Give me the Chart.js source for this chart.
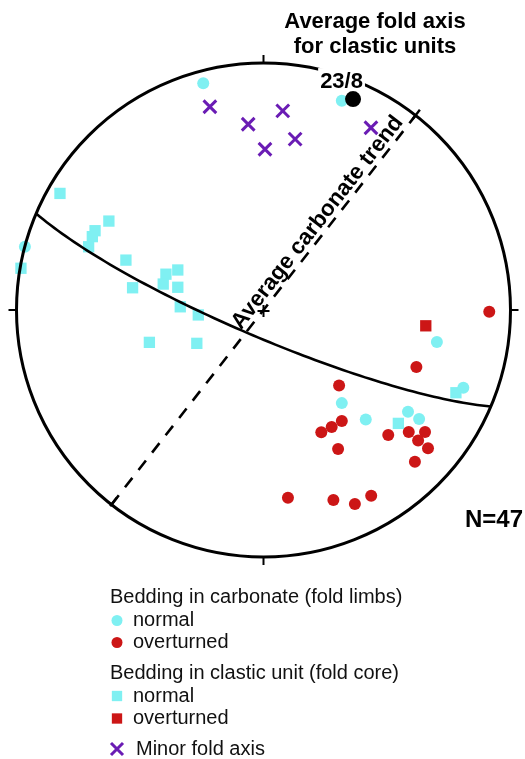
<!DOCTYPE html>
<html>
<head>
<meta charset="utf-8">
<script src="https://cdn.jsdelivr.net/npm/chart.js@4.4.1/dist/chart.umd.min.js"></script>
<style>
  html, body { margin: 0; padding: 0; background: #ffffff; }
  canvas { display: block; }
</style>
</head>
<body>
<canvas id="net" width="525" height="759"></canvas>
<script>
// ---- Data (lower-hemisphere equal-area net, x = east, y = north, unit radius) ----
const carbonateNormal = [
  [-0.244, 0.918], [0.317, 0.847], [-0.966, 0.256], [0.702, -0.130], [0.317, -0.377],
  [0.809, -0.315], [0.414, -0.443], [0.585, -0.412], [0.630, -0.441]
];
const carbonateOverturned = [
  [0.914, -0.007], [0.619, -0.231], [0.306, -0.306], [0.317, -0.449], [0.276, -0.474],
  [0.234, -0.495], [0.302, -0.563], [0.505, -0.506], [0.588, -0.494], [0.654, -0.494],
  [0.626, -0.528], [0.666, -0.560], [0.613, -0.614], [0.099, -0.760], [0.283, -0.769],
  [0.370, -0.785], [0.436, -0.752]
];
const clasticNormal = [
  [-0.824, 0.472], [-0.626, 0.360], [-0.682, 0.321], [-0.693, 0.297], [-0.708, 0.256],
  [-0.982, 0.169], [-0.557, 0.202], [-0.530, 0.090], [-0.395, 0.145], [-0.347, 0.162],
  [-0.406, 0.105], [-0.347, 0.092], [-0.337, 0.013], [-0.264, -0.020], [-0.462, -0.131],
  [-0.270, -0.135], [0.779, -0.335], [0.546, -0.459]
];
const clasticOverturned = [
  [0.657, -0.064]
];
const minorFoldAxes = [
  [-0.217, 0.823], [-0.062, 0.752], [0.078, 0.806], [0.006, 0.651], [0.128, 0.692], [0.435, 0.738]
];
// Average fold axis for clastic units (trend / plunge, degrees)
const avgFoldAxisTrend = 23;
const avgFoldAxisPlunge = 8;
// Average carbonate trend (azimuth, degrees)
const avgCarbonateTrend = 38;
// Great circle (dip direction / dip, degrees)
const greatCircleDipDir = 203;
const greatCircleDip = 81;
const sampleCount = 47;

// ---- Projection helpers (Schmidt equal-area, lower hemisphere) ----
const D2R = Math.PI / 180;
function projectLine(trend, plunge) {
  const r = Math.SQRT2 * Math.sin((90 - plunge) * D2R / 2);
  return { x: r * Math.sin(trend * D2R), y: r * Math.cos(trend * D2R) };
}
function planePath(dipDir, dip) {
  const s = (dipDir - 90) * D2R, dd = dipDir * D2R, d = dip * D2R;
  const sv = [Math.sin(s), Math.cos(s), 0];
  const dv = [Math.cos(d) * Math.sin(dd), Math.cos(d) * Math.cos(dd), Math.sin(d)];
  const pts = [];
  for (let a = 0; a <= 180; a += 2) {
    const c = Math.cos(a * D2R), sn = Math.sin(a * D2R);
    const e = c * sv[0] + sn * dv[0], n = c * sv[1] + sn * dv[1], dn = c * sv[2] + sn * dv[2];
    const k = 1 / Math.sqrt(1 + dn);
    pts.push({ x: e * k, y: n * k });
  }
  return pts;
}
const toXY = arr => arr.map(p => ({ x: p[0], y: p[1] }));

const CYAN = '#7ff0f2';
const RED = '#cc1616';
const PURPLE = '#6a1cb4';
const FONT = "'Liberation Sans', Arial, Helvetica, sans-serif";

const avgAxisPt = projectLine(avgFoldAxisTrend, avgFoldAxisPlunge);
const trendEnds = [projectLine(avgCarbonateTrend + 180, 0), projectLine(avgCarbonateTrend, 0)];

const datasets = [
  { label: 'great circle', data: planePath(greatCircleDipDir, greatCircleDip), showLine: true,
    borderColor: '#000', borderWidth: 2.6, pointRadius: 0, tension: 0, fill: false, clip: false },
  { label: 'Average carbonate trend', data: trendEnds, showLine: true, borderColor: '#000',
    borderWidth: 2.6, borderDash: [12, 10], pointRadius: 0, fill: false, clip: false },
  { label: 'Average fold axis', data: [avgAxisPt], pointStyle: 'circle', pointRadius: 8,
    backgroundColor: '#000', borderWidth: 0, clip: false },
  { label: 'Minor fold axis', data: toXY(minorFoldAxes), pointStyle: 'crossRot', pointRadius: 9,
    borderColor: PURPLE, backgroundColor: PURPLE, borderWidth: 3, clip: false },
  { label: 'clastic overturned', data: toXY(clasticOverturned), pointStyle: 'rect', pointRadius: 8,
    backgroundColor: RED, borderWidth: 0, clip: false },
  { label: 'carbonate overturned', data: toXY(carbonateOverturned), pointStyle: 'circle', pointRadius: 6,
    backgroundColor: RED, borderWidth: 0, clip: false },
  { label: 'carbonate normal', data: toXY(carbonateNormal), pointStyle: 'circle', pointRadius: 6,
    backgroundColor: CYAN, borderWidth: 0, clip: false },
  { label: 'clastic normal', data: toXY(clasticNormal), pointStyle: 'rect', pointRadius: 8,
    backgroundColor: CYAN, borderWidth: 0, clip: false }
];

function markPoint(ctx, ds, radius, x, y) {
  ctx.save();
  ctx.fillStyle = ds.backgroundColor || '#000';
  ctx.strokeStyle = ds.borderColor || ds.backgroundColor || '#000';
  ctx.lineWidth = ds.borderWidth || 0;
  if (Chart.helpers && Chart.helpers.drawPoint) {
    Chart.helpers.drawPoint(ctx, { pointStyle: ds.pointStyle, rotation: 0, radius: radius, borderWidth: ds.borderWidth || 0 }, x, y);
  }
  ctx.restore();
}

const netPlugin = {
  id: 'netDecor',
  afterDatasetsDraw(chart) {
    const ctx = chart.ctx;
    const xs = chart.scales.x, ys = chart.scales.y;
    const px = v => xs.getPixelForValue(v), py = v => ys.getPixelForValue(v);
    const cx = px(0), cy = py(0), R = px(1) - px(0);
    ctx.save();
    // primitive circle
    ctx.strokeStyle = '#000';
    ctx.lineWidth = 3;
    ctx.beginPath();
    ctx.arc(cx, cy, R, 0, Math.PI * 2);
    ctx.stroke();
    // cardinal ticks
    ctx.lineWidth = 2;
    const radialTick = (az, r0, r1) => {
      const s = Math.sin(az * D2R), c = Math.cos(az * D2R);
      ctx.beginPath();
      ctx.moveTo(cx + s * r0, cy - c * r0);
      ctx.lineTo(cx + s * r1, cy - c * r1);
      ctx.stroke();
    };
    [0, 90, 180, 270].forEach(a => radialTick(a, R - 1, R + 8));
    ctx.lineWidth = 2.4;
    radialTick(avgCarbonateTrend, R - 5, R + 7);
    radialTick(avgCarbonateTrend + 180, R - 9, R + 2);
    // centre cross
    ctx.lineWidth = 2;
    ctx.beginPath();
    ctx.moveTo(cx - 6, cy + 1); ctx.lineTo(cx + 6, cy + 1);
    ctx.moveTo(cx, cy - 5); ctx.lineTo(cx, cy + 7);
    ctx.stroke();

    // label for average fold axis
    const ax = px(avgAxisPt.x), ay = py(avgAxisPt.y);
    ctx.font = 'bold 22px ' + FONT;
    ctx.textAlign = 'center';
    ctx.textBaseline = 'alphabetic';
    const lbl = avgFoldAxisTrend + '/' + avgFoldAxisPlunge;
    const lw = ctx.measureText(lbl).width;
    ctx.fillStyle = '#fff';
    ctx.fillRect(ax - 11.5 - lw / 2 - 2, ay - 31, lw + 4, 23);
    ctx.fillStyle = '#000';
    ctx.fillText(lbl, ax - 11.5, ay - 10.7);

    // text along carbonate trend
    ctx.save();
    ctx.translate(cx, cy);
    ctx.rotate(-(90 - avgCarbonateTrend) * D2R);
    ctx.font = 'bold 22.5px ' + FONT;
    ctx.textAlign = 'left';
    ctx.fillText('Average carbonate trend', -30, -5);
    ctx.restore();

    // title
    ctx.font = 'bold 22px ' + FONT;
    ctx.textAlign = 'center';
    ctx.fillText('Average fold axis', 375, 28);
    ctx.fillText('for clastic units', 375, 53);

    // N
    ctx.font = 'bold 24px ' + FONT;
    ctx.textAlign = 'right';
    ctx.fillText('N=' + sampleCount, 523, 527);

    // legend
    const ds = chart.data.datasets;
    const byLabel = l => ds.find(d => d.label === l);
    ctx.textAlign = 'left';
    ctx.font = '20px ' + FONT;
    ctx.fillStyle = '#111';
    ctx.fillText('Bedding in carbonate (fold limbs)', 110, 603);
    ctx.fillText('normal', 133, 626);
    ctx.fillText('overturned', 133, 648);
    ctx.fillText('Bedding in clastic unit (fold core)', 110, 679);
    ctx.fillText('normal', 133, 702);
    ctx.fillText('overturned', 133, 724);
    ctx.fillText('Minor fold axis', 136, 755);
    markPoint(ctx, byLabel('carbonate normal'), 5.5, 117, 620.5);
    markPoint(ctx, byLabel('carbonate overturned'), 5.5, 117, 642.5);
    markPoint(ctx, byLabel('clastic normal'), 7.3, 117, 696);
    markPoint(ctx, byLabel('clastic overturned'), 7.3, 117, 718.5);
    markPoint(ctx, byLabel('Minor fold axis'), 8.5, 117, 749);
    ctx.restore();
  }
};

new Chart(document.getElementById('net'), {
  type: 'scatter',
  data: { datasets: datasets },
  options: {
    responsive: false,
    animation: false,
    devicePixelRatio: 1,
    events: [],
    layout: { padding: { left: 16.5, right: 14.5, top: 63, bottom: 202 } },
    scales: {
      x: { type: 'linear', min: -1, max: 1, display: false },
      y: { type: 'linear', min: -1, max: 1, display: false }
    },
    plugins: { legend: { display: false }, tooltip: { enabled: false }, title: { display: false } }
  },
  plugins: [netPlugin]
});
</script>
</body>
</html>
